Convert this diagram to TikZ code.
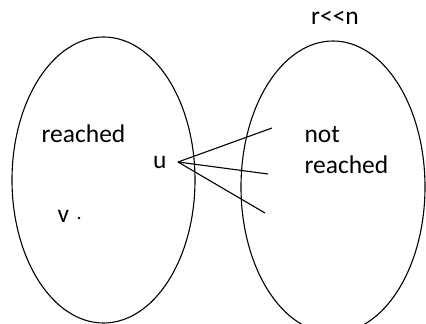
\documentclass[tikz,border=0pt]{standalone}
\usepackage{fontspec}
\setmainfont{Carlito}
\usepackage{tikz}
\usetikzlibrary{positioning, calc, shapes.geometric}

\begin{document}
\begin{tikzpicture}[x=1pt, y=-1pt, line width=1.1pt,
    setlabel/.style={font=\fontsize{25.5}{31}\selectfont, inner sep=0pt}]
    \useasboundingbox (0,0) rectangle (426,324);

    \node[draw, ellipse, minimum width=183, minimum height=286, inner sep=0pt] (reachedset) at (103.5,180) {};
    \node[draw, ellipse, minimum width=184, minimum height=292, inner sep=0pt] (otherset) at (333,187) {};

    \node[setlabel, anchor=base] (reachedlbl) at (83.5,142) {reached};
    % base of a two-line node is the last line
    \node[setlabel, anchor=base west, align=left] (notlbl) at (304,173) {not\\reached};
    \node[setlabel, anchor=base] (toplbl) at (335,24) {r<{}<n};

    \coordinate (u) at (178,162);
    \node[setlabel, anchor=base east] (ulbl) at (167,168) {u};
    \node[setlabel, anchor=base] (vlbl) at (63.5,222) {v};
    \fill (79,218) circle (1.3pt) coordinate (v);

    \coordinate (e1) at (272,128);
    \coordinate (e2) at (268,174);
    \coordinate (e3) at (265,213);
    \foreach \e in {e1,e2,e3}
        \draw (u) -- (\e);
\end{tikzpicture}
\end{document}
